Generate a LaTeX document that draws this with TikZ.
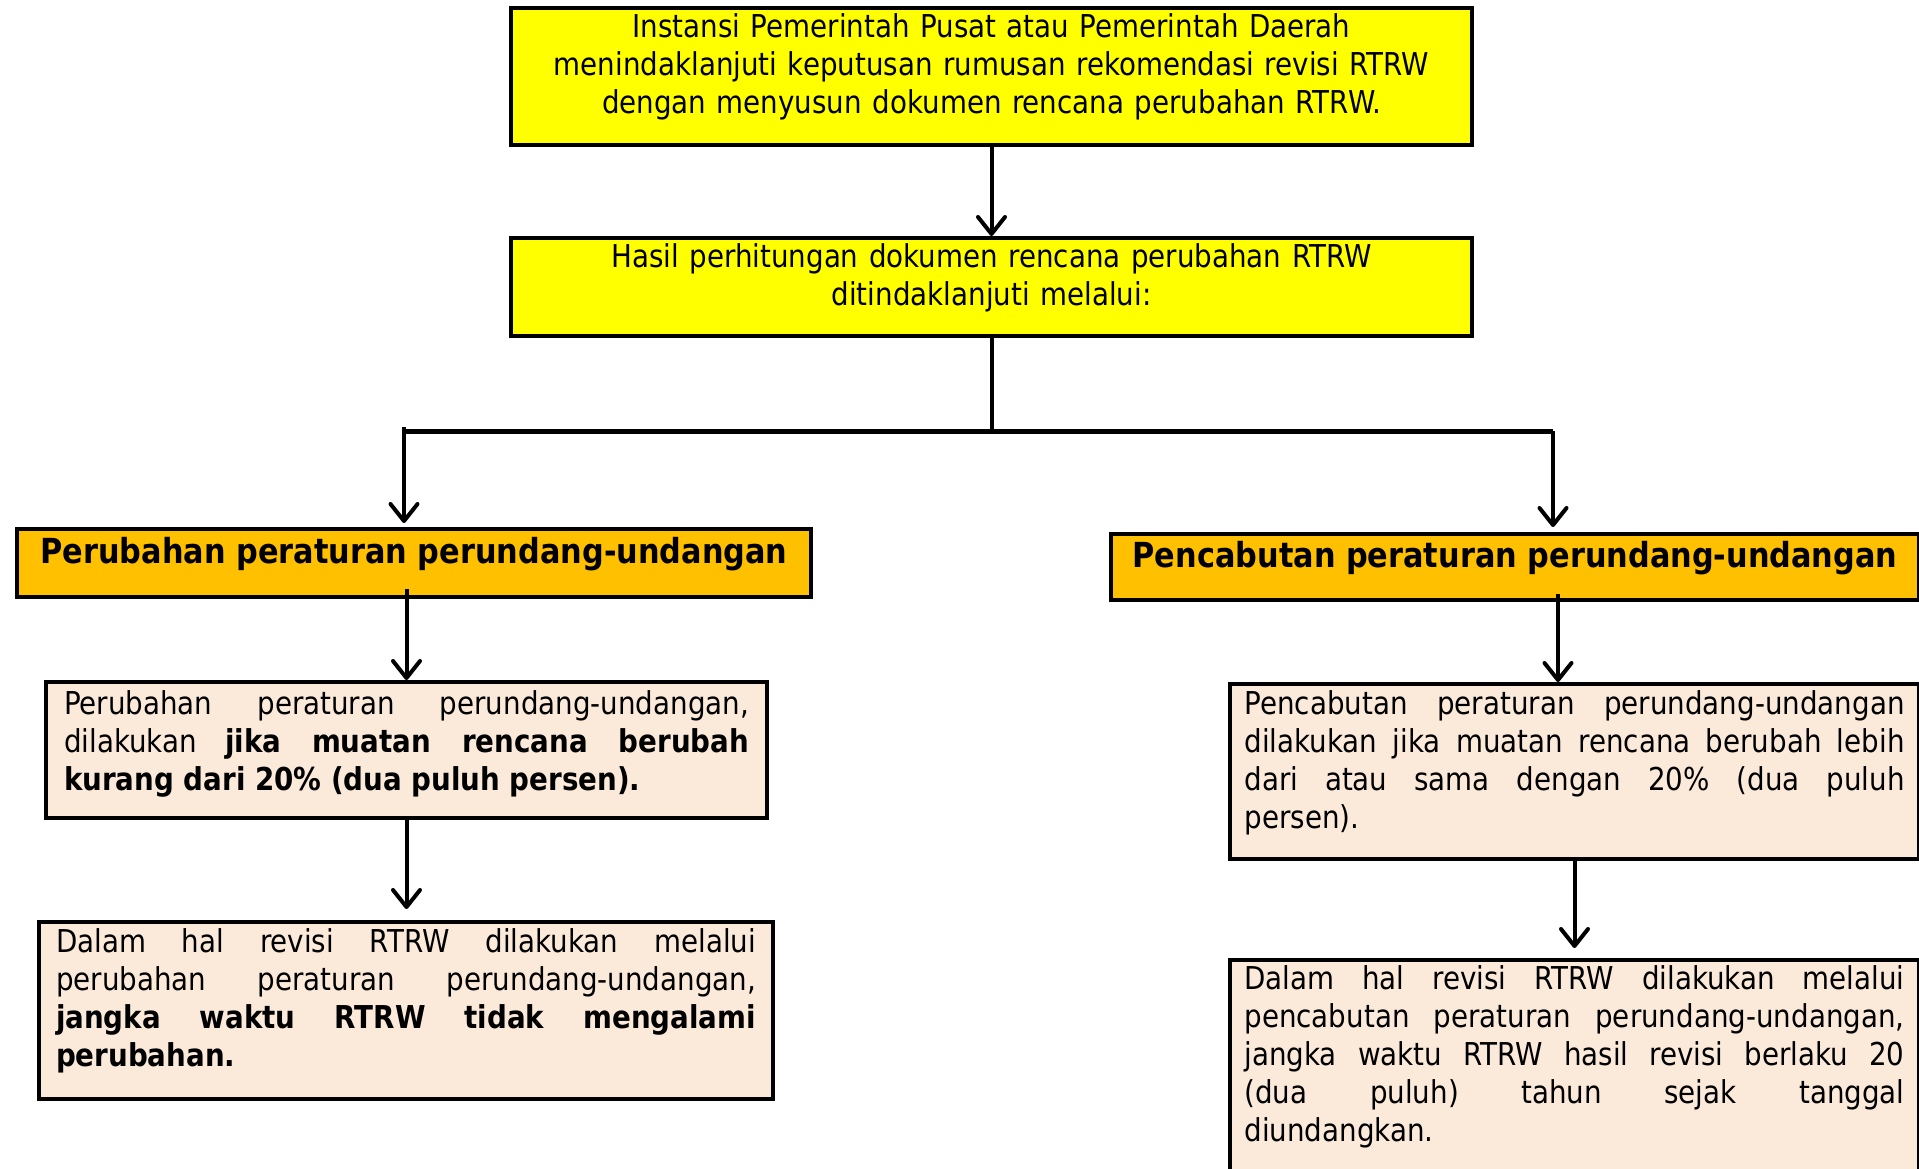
\documentclass[tikz,border=0pt]{standalone}
\usepackage{fontspec}
\setmainfont{DejaVu Sans}[FakeStretch=0.88]
\usetikzlibrary{arrows.meta}
\definecolor{kuning}{RGB}{255,255,0}
\definecolor{oranye}{RGB}{255,192,0}
\definecolor{krem}{RGB}{251,233,218}
\tolerance=9999 \hbadness=10000 \hyphenpenalty=10000 \exhyphenpenalty=10000

\begin{document}
\begin{tikzpicture}[x=1pt,y=-1pt,line width=4pt,
  >={Straight Barb[length=17pt,width=27pt,round]},
  kotak/.style={draw,line width=4pt,inner sep=0pt,anchor=north west,
                font=\fontsize{31.5}{38}\selectfont},
  judul/.style={kotak,fill=oranye,font=\fontsize{34.5}{40}\selectfont\bfseries},
  isi/.style={kotak,fill=krem,align=justify}]
\useasboundingbox (0,0) rectangle (1919,1168);
% two yellow boxes on top
\node[kotak,fill=kuning,align=center,minimum width=961pt,text width=940pt,
      text height=29.5pt,text depth=107.5pt] (atas) at (509,6)
  {Instansi Pemerintah Pusat atau Pemerintah Daerah\\
   menindaklanjuti keputusan rumusan rekomendasi revisi RTRW\\
   dengan menyusun dokumen rencana perubahan RTRW.};
\node[kotak,fill=kuning,align=center,minimum width=961pt,text width=940pt,
      text height=29.5pt,text depth=68.5pt] (tengah) at (509,236)
  {Hasil perhitungan dokumen rencana perubahan RTRW\\
   ditindaklanjuti melalui:};
% orange headings
\node[judul,minimum width=794pt,text height=34.5pt,text depth=33.5pt] (oranyekiri) at (15,527)
  {Perubahan peraturan perundang-undangan\hspace{10pt}};
\node[judul,minimum width=808pt,text height=33pt,text depth=33pt] (oranyekanan) at (1109,532)
  {Pencabutan peraturan perundang-undangan\hspace{8pt}};
% left column
\node[isi,minimum width=721pt,text width=685pt,text height=32.5pt,text depth=103.5pt] (kiri1) at (44,680)
  {Perubahan peraturan perundang-undangan,\linebreak
   dilakukan \textbf{jika muatan rencana berubah\linebreak
   kurang dari 20\% (dua puluh persen).}};
\node[isi,minimum width=734pt,text width=700pt,text height=30.5pt,text depth=146.5pt] (kiri2) at (37,920)
  {Dalam hal revisi RTRW dilakukan melalui\linebreak
   perubahan peraturan perundang-undangan,\linebreak
   \textbf{jangka waktu RTRW tidak mengalami\linebreak
   perubahan.}};
% right column
\node[isi,minimum width=689pt,text width=660pt,text height=30.5pt,text depth=144.5pt] (kanan1) at (1228,682)
  {Pencabutan peraturan perundang-undangan\linebreak
   dilakukan jika muatan rencana berubah lebih\linebreak
   dari atau sama dengan 20\% (dua puluh\linebreak
   persen).};
\node[isi,minimum width=689pt,text width=660pt,text height=29.5pt,text depth=200.5pt] (kanan2) at (1228,958)
  {Dalam hal revisi RTRW dilakukan melalui\linebreak
   pencabutan peraturan perundang-undangan,\linebreak
   jangka waktu RTRW hasil revisi berlaku 20\linebreak
   (dua puluh) tahun sejak tanggal\linebreak
   diundangkan.};
% branching
\coordinate (cabangkiri) at (404,431);
\coordinate (cabangkanan) at (1553,431);
\draw[->] (atas) -- (tengah);
\draw (tengah.south) -- (tengah.south |- cabangkiri);
\draw[line width=5pt] (cabangkiri) -- (cabangkanan);
\draw[->,shorten >=4pt] ([yshift=4pt]cabangkiri) -- (cabangkiri |- oranyekiri.north);
\draw[->,shorten >=5pt] (cabangkanan) -- (cabangkanan |- oranyekanan.north);
% down the columns
\draw[->,shorten <=-10pt] (kiri1.north |- oranyekiri.south) -- (kiri1.north);
\draw[->,shorten >=11pt] (kiri1.south) -- (kiri1.south |- kiri2.north);
\draw[->,shorten <=-8pt] ([xshift=5pt]cabangkanan |- oranyekanan.south) -- ([xshift=5pt]cabangkanan |- kanan1.north);
\draw[->,shorten >=10pt] (kanan1.south) -- (kanan1.south |- kanan2.north);
\end{tikzpicture}
\end{document}
